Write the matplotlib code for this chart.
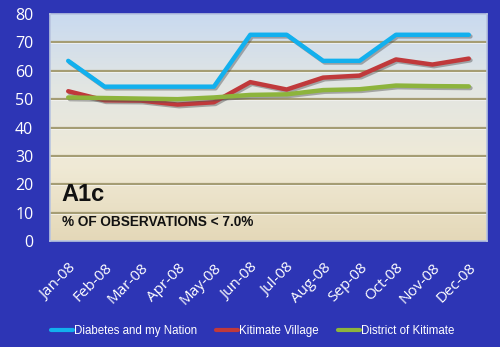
import matplotlib
matplotlib.use("Agg")
import matplotlib.pyplot as plt
import matplotlib.patheffects as pe
import numpy as np
from matplotlib.colors import LinearSegmentedColormap

months = ["Jan-08", "Feb-08", "Mar-08", "Apr-08", "May-08", "Jun-08",
          "Jul-08", "Aug-08", "Sep-08", "Oct-08", "Nov-08", "Dec-08"]
nation = [63.5, 54.4, 54.4, 54.4, 54.4, 72.7, 72.7, 63.5, 63.5, 72.7, 72.7, 72.7]
village = [52.8, 49.6, 49.5, 48.1, 48.9, 56.0, 53.4, 57.6, 58.3, 64.0, 62.2, 64.3]
district = [50.6, 50.4, 50.2, 50.0, 50.6, 51.5, 51.7, 53.2, 53.5, 54.8, 54.6, 54.5]
series_names = ["Diabetes and my Nation", "Kitimate Village", "District of Kitimate"]
yticks = [0, 10, 20, 30, 40, 50, 60, 70, 80]

BG = "#2D35B5"
fig = plt.figure(figsize=(5, 3.47), dpi=100, facecolor=BG)
ax = fig.add_axes([0.1, 0.3055, 0.874, 0.654])
ax.set_facecolor("none")

# gradient background (top: light blue, bottom: tan)
cmap = LinearSegmentedColormap.from_list("g", ["#C9DAF0", "#E3E6E2", "#F0EAD6", "#E4D8B8"])
grad = np.linspace(0, 1, 256).reshape(-1, 1)
ax.imshow(grad, cmap=cmap, aspect="auto", extent=[0, 1, 0, 1], origin="upper",
          transform=ax.transAxes, zorder=0)

x = np.arange(len(months))
ax.set_xlim(-0.5, len(months) - 0.5)
ax.set_ylim(0, 80)

for v in yticks[1:-1]:
    ax.axhline(v, color="#A59D74", lw=1.6, zorder=1)
    ax.axhline(v - 0.35, color="#FFFFFF", lw=0.6, alpha=0.7, zorder=1)

shadow = [pe.SimpleLineShadow(offset=(1.2, -1.2), shadow_color="#555555", alpha=0.45), pe.Normal()]
colors = ["#12B0EE", "#C0393B", "#8DB43C"]
for data, c, name in zip([nation, village, district], colors, series_names):
    ax.plot(x, data, color=c, lw=3.2, solid_capstyle="round", solid_joinstyle="round",
            label=name, path_effects=shadow, zorder=3)

ax.set_xticks(x)
ax.set_xticklabels(months, rotation=45, ha="right", rotation_mode="anchor",
                   color="white", fontsize=11, family="Open Sans")
ax.set_yticks(yticks)
ax.set_yticklabels([str(v) for v in yticks], color="white", fontsize=11.5, family="Open Sans")
ax.tick_params(axis="both", length=0)
ax.tick_params(axis="y", pad=12)
ax.tick_params(axis="x", pad=14)
for s in ax.spines.values():
    s.set_color("#B8C4E0")
    s.set_linewidth(1.2)

ax.text(0.027, 0.205, "A1c", transform=ax.transAxes, fontsize=17, fontweight="bold",
        family="Liberation Sans", color="#111111", va="center")
ax.text(0.027, 0.085, "% OF OBSERVATIONS < 7.0%", transform=ax.transAxes, fontsize=9.8,
        fontweight="bold", family="Liberation Sans", color="#111111", va="center")

leg = fig.legend(loc="center", bbox_to_anchor=(0.505, 1 - 331 / 347), ncol=3, frameon=False,
                 handlelength=1.9, handletextpad=0.1, columnspacing=1.65,
                 prop={"family": "Liberation Sans", "size": 8.3})
for t in leg.get_texts():
    t.set_color("white")
for l in leg.get_lines():
    l.set_linewidth(3)
    l.set_path_effects([])

fig.savefig("out.png", dpi=100, facecolor=BG)
